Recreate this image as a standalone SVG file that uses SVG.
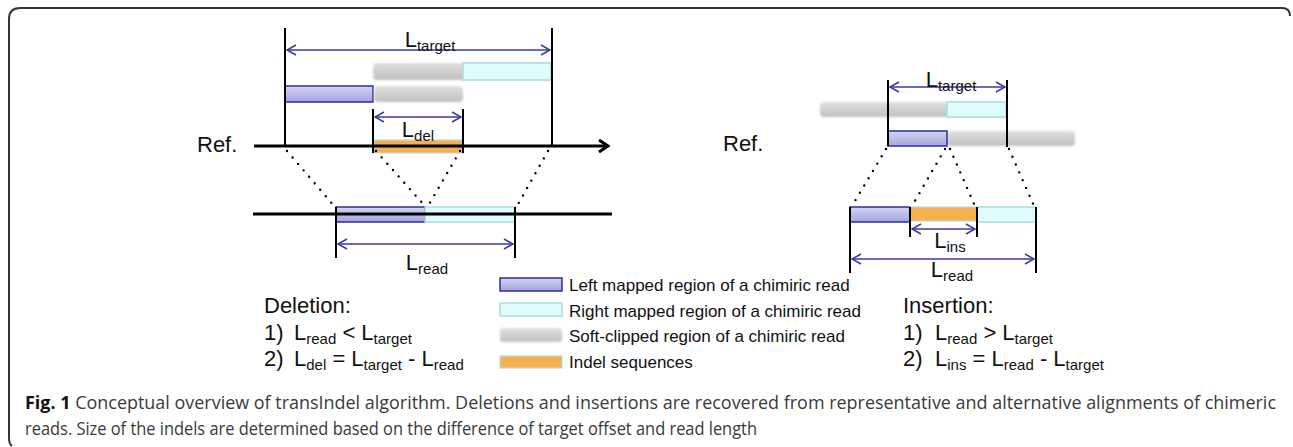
<svg xmlns="http://www.w3.org/2000/svg" width="1293" height="447" viewBox="0 0 1293 447">
<style>
.t{font-family:"Liberation Sans",Arial,sans-serif;fill:#111}
.big{font-size:22px}
.sub{font-size:15px}
.leg{font-size:17px}
.vl{stroke:#000;stroke-width:2;fill:none}
.ar{stroke:#3a3aa6;stroke-width:1.5;fill:none;marker-start:url(#oh);marker-end:url(#oh)}
.dot{stroke:#000;stroke-width:2.4;stroke-linecap:round;stroke-dasharray:0 8.5;fill:none}
.blue{fill:url(#gb);stroke:#2e2e9c;stroke-width:1.5}
.cyan{fill:#dffbfb;stroke:#a8dede;stroke-width:1.5}
.gray{fill:url(#gg);filter:url(#bl)}
.org{fill:#f6b04e;stroke:#b7dcdc;stroke-width:1.2}
.cap{font-family:"Open Sans","Liberation Sans",sans-serif;font-size:18px;fill:#3a3a3a}
</style>
<defs>
<linearGradient id="gb" x1="0" y1="0" x2="0" y2="1"><stop offset="0" stop-color="#d4d4f4"/><stop offset="1" stop-color="#a4a4e0"/></linearGradient>
<linearGradient id="gg" x1="0" y1="0" x2="0" y2="1"><stop offset="0" stop-color="#e0e0e0"/><stop offset="1" stop-color="#c0c0c0"/></linearGradient>
<filter id="bl" x="-5%" y="-30%" width="110%" height="160%"><feGaussianBlur stdDeviation="1"/></filter>
<marker id="oh" viewBox="-11 -7 13 14" refX="0" refY="0" markerWidth="13" markerHeight="14" markerUnits="userSpaceOnUse" orient="auto-start-reverse"><path d="M-9,-5 L0,0 L-9,5" fill="none" stroke="#3a3aa6" stroke-width="1.5"/></marker>
<marker id="rh" viewBox="-12 -8 14 16" refX="0" refY="0" markerWidth="14" markerHeight="16" markerUnits="userSpaceOnUse" orient="auto"><path d="M-9,-6 L0,0 L-9,6" fill="none" stroke="#000" stroke-width="3"/></marker>
</defs>
<rect width="1293" height="447" fill="#fff"/>
<path d="M1290,16 Q1290,8 1282,8 L20,8 Q9,8 9,19 L9,438 Q9,444 12,446" fill="none" stroke="#333" stroke-width="2"/>

<g id="deletion">
  <text class="t big" x="197" y="152">Ref.</text>
  <rect class="gray" x="373" y="63" width="179" height="17" rx="4"/>
  <rect class="cyan" x="463" y="63" width="88" height="17"/>
  <rect class="blue" x="285" y="86" width="88" height="16"/>
  <rect class="gray" x="374" y="86" width="89" height="16" rx="4"/>
  <rect class="org" x="374" y="140" width="89" height="13"/>
  <line x1="254" y1="146" x2="608" y2="146" stroke="#000" stroke-width="3" marker-end="url(#rh)"/>
  <line class="vl" x1="285" y1="28" x2="285" y2="146"/>
  <line class="vl" x1="552" y1="28" x2="552" y2="146"/>
  <line class="vl" x1="373" y1="109" x2="373" y2="153"/>
  <line class="vl" x1="463" y1="109" x2="463" y2="153"/>
  <line class="ar" x1="287" y1="50" x2="550" y2="50"/>
  <text class="t big" x="430" y="47" text-anchor="middle">L<tspan class="sub" dy="4">target</tspan></text>
  <line class="ar" x1="375" y1="117" x2="461" y2="117"/>
  <text class="t big" x="418" y="137" text-anchor="middle">L<tspan class="sub" dy="4">del</tspan></text>
  <rect class="blue" x="336" y="207" width="89" height="15"/>
  <rect class="cyan" x="425" y="207" width="90" height="15"/>
  <line x1="253" y1="214" x2="612" y2="214" stroke="#000" stroke-width="3"/>
  <line class="vl" x1="336" y1="207" x2="336" y2="258"/>
  <line class="vl" x1="515" y1="207" x2="515" y2="258"/>
  <line class="ar" x1="338" y1="244" x2="513" y2="244"/>
  <text class="t big" x="427" y="270" text-anchor="middle">L<tspan class="sub" dy="4">read</tspan></text>
  <text class="t big" x="264" y="313">Deletion:</text>
  <text class="t big" x="264" y="340">1)<tspan x="294">L</tspan><tspan class="sub" dy="4">read</tspan><tspan dy="-4"> &lt; L</tspan><tspan class="sub" dy="4">target</tspan></text>
  <text class="t big" x="264" y="366">2)<tspan x="294">L</tspan><tspan class="sub" dy="4">del</tspan><tspan dy="-4"> = L</tspan><tspan class="sub" dy="4">target</tspan><tspan dy="-4"> - L</tspan><tspan class="sub" dy="4">read</tspan></text>
</g>

<g id="insertion">
  <text class="t big" x="723" y="151">Ref.</text>
  <rect class="gray" x="820" y="102" width="187" height="15" rx="4"/>
  <rect class="cyan" x="947" y="102" width="59" height="15"/>
  <rect class="gray" x="947" y="131" width="128" height="15" rx="4"/>
  <rect class="blue" x="888" y="131" width="59" height="15"/>
  <line class="vl" x1="888" y1="80" x2="888" y2="146" stroke-width="1.5"/>
  <line class="vl" x1="1007" y1="80" x2="1007" y2="147" stroke-width="1.5"/>
  <line class="ar" x1="890" y1="87" x2="1005" y2="87"/>
  <text class="t big" x="951" y="87" text-anchor="middle">L<tspan class="sub" dy="4">target</tspan></text>
  <rect class="blue" x="850" y="207" width="60" height="15"/>
  <rect class="org" x="910" y="207" width="67" height="14"/>
  <rect class="cyan" x="977" y="207" width="59" height="15"/>
  <line class="vl" x1="850" y1="207" x2="850" y2="273"/>
  <line class="vl" x1="1036" y1="207" x2="1036" y2="273"/>
  <line class="vl" x1="910" y1="207" x2="910" y2="237"/>
  <line class="vl" x1="977" y1="207" x2="977" y2="237"/>
  <line class="ar" x1="912" y1="229" x2="975" y2="229"/>
  <text class="t big" x="950" y="248" text-anchor="middle">L<tspan class="sub" dy="4">ins</tspan></text>
  <line class="ar" x1="852" y1="259" x2="1034" y2="259"/>
  <text class="t big" x="952" y="277" text-anchor="middle">L<tspan class="sub" dy="4">read</tspan></text>
  <text class="t big" x="903" y="313">Insertion:</text>
  <text class="t big" x="903" y="340">1)<tspan x="935">L</tspan><tspan class="sub" dy="4">read</tspan><tspan dy="-4"> &gt; L</tspan><tspan class="sub" dy="4">target</tspan></text>
  <text class="t big" x="903" y="366">2)<tspan x="935">L</tspan><tspan class="sub" dy="4">ins</tspan><tspan dy="-4"> = L</tspan><tspan class="sub" dy="4">read</tspan><tspan dy="-4"> - L</tspan><tspan class="sub" dy="4">target</tspan></text>
</g>

<g id="connectors">
  <line class="dot" x1="287" y1="151" x2="335" y2="207"/>
  <line class="dot" x1="376" y1="151" x2="425" y2="206"/>
  <line class="dot" x1="460" y1="151" x2="428" y2="206"/>
  <line class="dot" x1="548" y1="151" x2="517" y2="206"/>
  <line class="dot" x1="886" y1="149" x2="852" y2="206"/>
  <line class="dot" x1="945" y1="149" x2="912" y2="206"/>
  <line class="dot" x1="950" y1="149" x2="975" y2="206"/>
  <line class="dot" x1="1009" y1="149" x2="1034" y2="206"/>
</g>

<g id="legend">
  <rect class="blue" x="500" y="278" width="62" height="13"/>
  <text class="t leg" x="569" y="291">Left mapped region of a chimiric read</text>
  <rect class="cyan" x="500" y="303" width="62" height="13"/>
  <text class="t leg" x="569" y="317">Right mapped region of a chimiric read</text>
  <rect class="gray" x="500" y="328" width="62" height="14" rx="3"/>
  <text class="t leg" x="569" y="342">Soft-clipped region of a chimiric read</text>
  <rect class="org" x="500" y="356" width="62" height="12"/>
  <text class="t leg" x="569" y="368">Indel sequences</text>
</g>

<g id="caption">
  <text class="cap" x="25" y="409" textLength="1251" lengthAdjust="spacingAndGlyphs"><tspan font-weight="bold" fill="#111">Fig. 1</tspan> Conceptual overview of transIndel algorithm. Deletions and insertions are recovered from representative and alternative alignments of chimeric</text>
  <text class="cap" x="25" y="435" textLength="732" lengthAdjust="spacingAndGlyphs">reads. Size of the indels are determined based on the difference of target offset and read length</text>
</g>
</svg>
